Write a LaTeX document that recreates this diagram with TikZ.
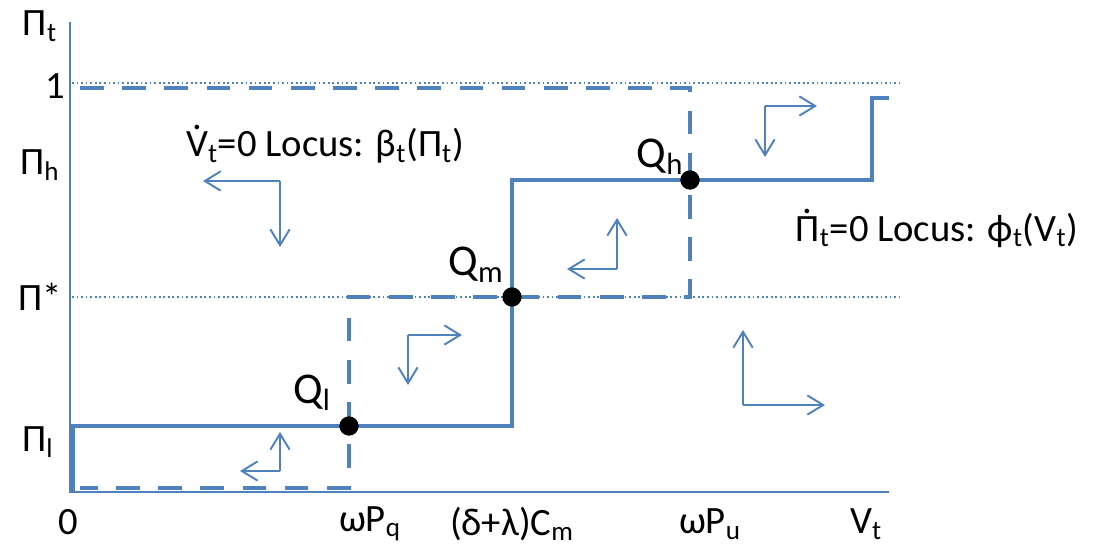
\documentclass[tikz,border=0pt]{standalone}
\usepackage{fontspec}
\setmainfont{Carlito}
\usetikzlibrary{arrows.meta}
\definecolor{locusblue}{HTML}{4F81BD}
\newcommand{\sbs}[1]{\textsubscript{#1}}
\newcommand{\tdot}[1]{\leavevmode\ooalign{#1\cr\hidewidth\raisebox{0.7em}{.}\hidewidth\cr}}
\tikzset{
  locus/.style={locusblue,line width=2pt},
  vlocus/.style={locusblue,line width=2.8pt,dash pattern=on 13.5pt off 10.5pt},
  guide/.style={locusblue,line width=0.9pt,dash pattern=on 1pt off 1.6pt},
  flow/.style={locusblue,line width=1.1pt,-{Straight Barb[length=9pt,width=11pt]}},
  eq/.style={circle,fill=black,inner sep=0pt,minimum size=11pt},
  lbl/.style={font=\fontsize{22}{24}\selectfont},
  qlbl/.style={font=\fontsize{25}{28}\selectfont}
}
\begin{document}
\begin{tikzpicture}[x=0.02cm,y=-0.02cm,line join=miter,line cap=butt]
  \useasboundingbox (0,0) rectangle (1103,548);
  % axes
  \draw[locusblue,line width=1.5pt] (70,22)--(70,492)--(889,492);
  % guide lines at 1 and Pi*
  \draw[guide] (72,83)--(900,83);
  \draw[guide] (72,297)--(900,297);
  % Pi-dot = 0 locus
  \draw[locus] (73,492)--(73,426)--(512,426)--(512,180)--(872,180)--(872,98)--(889,98);
  % V-dot = 0 locus
  \draw[vlocus] (80,88)--(690,88)--(690,297)--(349,297)--(349,488)--(80,488);
  % equilibria
  \node[eq] (ql) at (349,426) {};
  \node[eq] (qm) at (512,297) {};
  \node[eq] (qh) at (690,180) {};
  \node[qlbl] at (312,393) {Q\sbs{l}};
  \node[qlbl] at (476,265) {Q\sbs{m}};
  \node[qlbl] at (660,157) {Q\sbs{h}};
  % axis labels
  \node[lbl] (pit) at (40,26) {Π\sbs{t}};
  \node[lbl] (one) at (55,86) {1};
  \node[lbl] (pih) at (40,165) {Π\sbs{h}};
  \node[lbl] (pis) at (40,297) {Π*};
  \node[lbl] (pil) at (38,442) {Π\sbs{l}};
  \node[lbl] (zero) at (68,522) {0};
  \node[lbl] (wpq) at (370,524) {ωP\sbs{q}};
  \node[lbl] (cm) at (512,524) {(δ+λ)C\sbs{m}};
  \node[lbl] (wpu) at (710,524) {ωP\sbs{u}};
  \node[lbl] (vt) at (866,524) {V\sbs{t}};
  % locus labels
  \node[lbl] (vlab) at (325,146) {\tdot{V}\sbs{t}=0 Locus: β\sbs{t}(Π\sbs{t})};
  \node[lbl] (plab) at (937,230) {\tdot{Π}\sbs{t}=0 Locus: ϕ\sbs{t}(V\sbs{t})};
  % direction arrows
  \foreach \cx/\cy/\hx/\vy in {280/181/203/247, 280/471/240/432, 617/269/567/218,
                               408/335/462/385, 765/106/817/157, 743/405/825/330}
  {
    \coordinate (c) at (\cx,\cy);
    \draw[flow] (c)--(\hx,\cy);
    \draw[flow] (c)--(\cx,\vy);
  }
\end{tikzpicture}
\end{document}
